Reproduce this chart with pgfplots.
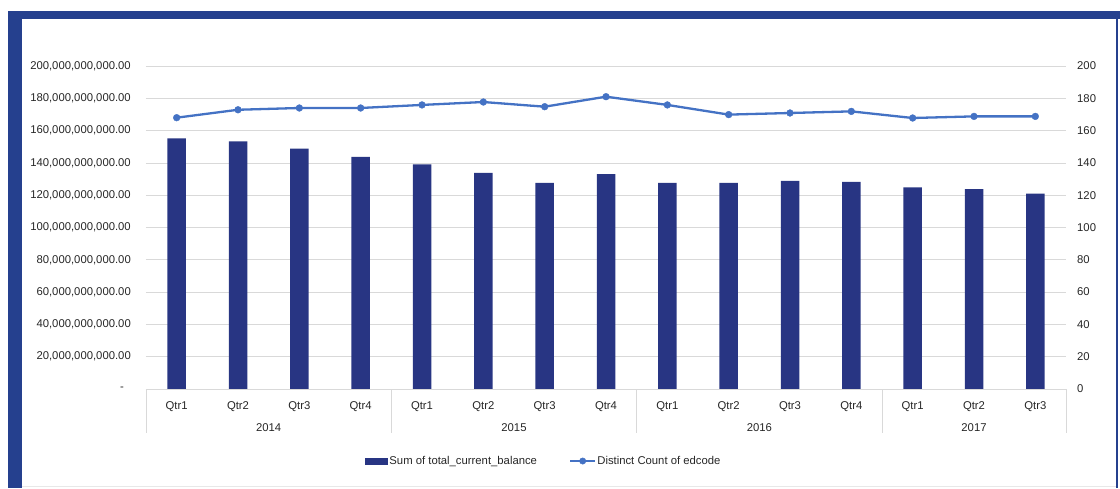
\documentclass[border=0pt]{standalone}
\usepackage{fontspec}
\setmainfont{Liberation Sans}
\usepackage{pgfplots}
\usepackage{pgfplotstable}
\pgfplotsset{compat=1.18}

\definecolor{frameblue}{HTML}{25408E}
\definecolor{barblue}{HTML}{283583}
\definecolor{lineblue}{HTML}{4472C4}
\definecolor{gridgray}{HTML}{D9D9D9}
\definecolor{txt}{HTML}{262626}

\newcommand{\lbl}{\fontsize{11.3}{13}\selectfont}

% bal in billions, cnt = distinct count
\pgfplotstableread{
idx bal   cnt
0   155.2 168.0
1   153.4 172.9
2   148.8 174.0
3   143.7 174.0
4   139.1 175.9
5   133.9 177.7
6   127.6 174.8
7   133.1 181.0
8   127.7 175.9
9   127.7 169.9
10  128.8 170.9
11  128.2 171.9
12  124.9 167.8
13  123.7 168.8
14  120.9 168.8
}\data

\begin{document}
\begin{tikzpicture}
\path[use as bounding box] (0,0) rectangle (1120pt,488pt);
% frame
\fill[frameblue] (8pt,468.7pt) rectangle (1120pt,477pt);
\fill[frameblue] (8pt,0pt) rectangle (22pt,477pt);
\fill[frameblue] (1115.5pt,0pt) rectangle (1118pt,477pt);
\draw[gridgray!60, line width=0.6pt] (22pt,1.3pt) -- (1115.5pt,1.3pt);

\begin{axis}[
    at={(146pt,99pt)}, anchor=south west,
    scale only axis, width=920pt, height=323pt,
    xmin=-0.5, xmax=14.5, ymin=0, ymax=200,
    axis line style={draw=none},
    tick style={draw=none}, major tick length=0pt,
    ymajorgrids, grid style={gridgray, line width=0.8pt},
    ytick={0,20,...,200},
    yticklabels={{-\hspace*{7pt}},{20,000,000,000.00},{40,000,000,000.00},
        {60,000,000,000.00},{80,000,000,000.00},{100,000,000,000.00},
        {120,000,000,000.00},{140,000,000,000.00},{160,000,000,000.00},
        {180,000,000,000.00},{200,000,000,000.00}},
    yticklabel style={anchor=east, inner sep=0pt, xshift=-15pt},
    xtick={0,...,14},
    xticklabels={Qtr1,Qtr2,Qtr3,Qtr4,Qtr1,Qtr2,Qtr3,Qtr4,Qtr1,Qtr2,Qtr3,Qtr4,Qtr1,Qtr2,Qtr3},
    xticklabel style={anchor=base, inner sep=0pt, yshift=-20pt},
    tick label style={font=\lbl, text=txt},
    clip=false,
    legend columns=2,
    legend style={at={(0.432,-0.223)}, anchor=center, draw=none, fill=none,
        font=\lbl, text=txt, inner sep=0pt, nodes={inner sep=1pt},
        /tikz/every even column/.append style={column sep=31pt}},
]
\addplot[ybar, bar width=18.5pt, fill=barblue, draw=none,
    legend image code/.code={\fill[barblue] (0pt,-3.5pt) rectangle (23pt,3.5pt);}]
    table[x=idx, y=bal] {\data};
\addlegendentry{Sum of total\_current\_balance}
\addlegendimage{legend image code/.code={
    \draw[lineblue, line width=2.3pt] (0pt,0pt) -- (25pt,0pt);
    \fill[lineblue] (12.5pt,0pt) circle (3.2pt);}}
\addlegendentry{Distinct Count of edcode}

\draw[gridgray, line width=0.8pt] (axis cs:-0.5,0) -- (axis cs:14.5,0);
\draw[gridgray, line width=0.8pt] (axis cs:-0.5,0) -- ([yshift=-44pt]axis cs:-0.5,0);
\draw[gridgray, line width=0.8pt] (axis cs:3.5,0) -- ([yshift=-44pt]axis cs:3.5,0);
\draw[gridgray, line width=0.8pt] (axis cs:7.5,0) -- ([yshift=-44pt]axis cs:7.5,0);
\draw[gridgray, line width=0.8pt] (axis cs:11.5,0) -- ([yshift=-44pt]axis cs:11.5,0);
\draw[gridgray, line width=0.8pt] (axis cs:14.5,0) -- ([yshift=-44pt]axis cs:14.5,0);
\node[font=\lbl, text=txt, anchor=base, inner sep=0pt] at ([yshift=-42pt]axis cs:1.5,0) {2014};
\node[font=\lbl, text=txt, anchor=base, inner sep=0pt] at ([yshift=-42pt]axis cs:5.5,0) {2015};
\node[font=\lbl, text=txt, anchor=base, inner sep=0pt] at ([yshift=-42pt]axis cs:9.5,0) {2016};
\node[font=\lbl, text=txt, anchor=base, inner sep=0pt] at ([yshift=-42pt]axis cs:13,0) {2017};
\end{axis}

\begin{axis}[
    at={(146pt,99pt)}, anchor=south west,
    scale only axis, width=920pt, height=323pt,
    xmin=-0.5, xmax=14.5, ymin=0, ymax=200,
    hide x axis, axis y line*=right,
    axis line style={draw=none},
    tick style={draw=none}, major tick length=0pt,
    ytick={0,20,...,200},
    yticklabel style={anchor=west, inner sep=0pt, xshift=11pt, font=\lbl, text=txt},
    /pgf/number format/assume math mode=true,
    clip=false,
]
\addplot[lineblue, line width=2.3pt, mark=*, mark size=3.4pt,
    mark options={solid, fill=lineblue, draw=lineblue, line width=0.4pt}]
    table[x=idx, y=cnt] {\data};
\end{axis}
\end{tikzpicture}
\end{document}
